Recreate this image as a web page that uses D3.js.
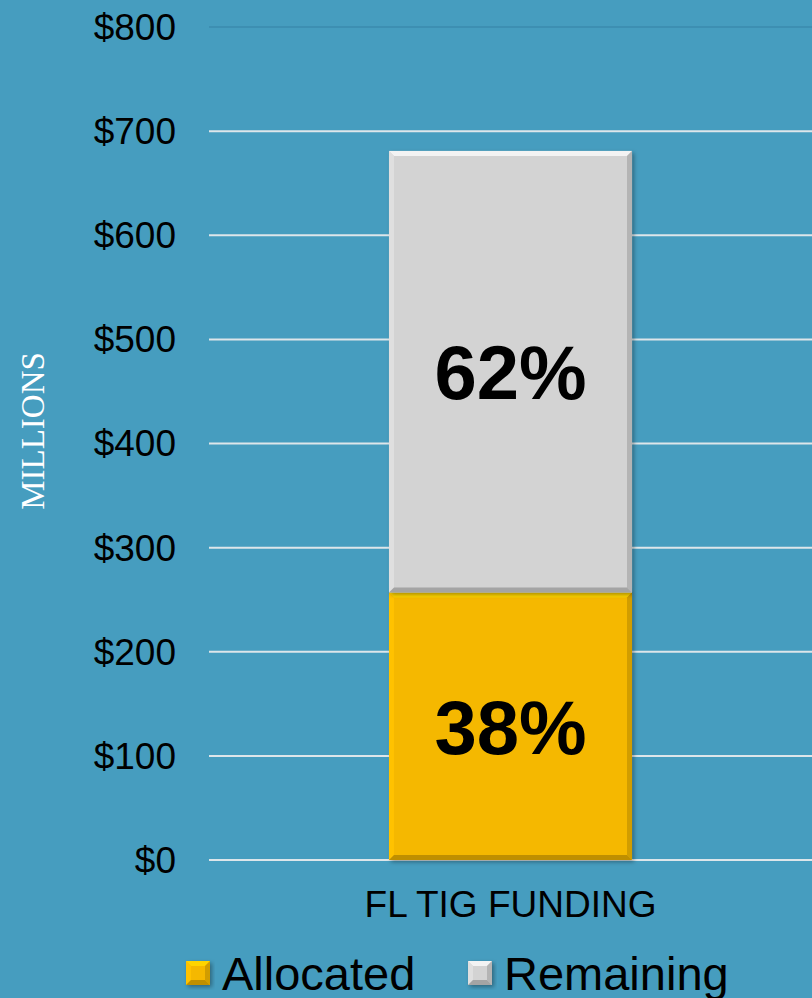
<!DOCTYPE html>
<html>
<head>
<meta charset="utf-8">
<script src="https://cdn.jsdelivr.net/npm/d3@7"></script>
<style>
  body { margin: 0; background: #469dbf; }
  svg { display: block; }
</style>
</head>
<body>
<svg></svg>
<script>
let categories = ['FL TIG FUNDING']
let seriesNames = ['Allocated', 'Remaining']
let allocated = [257]
let remaining = [424]
let percentLabels = [['38%'], ['62%']]
let tickValues = [0, 100, 200, 300, 400, 500, 600, 700, 800]

let svgWidth = 812
let svgHeight = 998
let colors = ['#f5b800', '#d3d3d3']

let svg = d3.select('svg')
    .attr('width', svgWidth)
    .attr('height', svgHeight)
    .style('background', '#469dbf')

let defs = svg.append('defs')
let shadow = defs.append('filter')
    .attr('id', 'shadow')
    .attr('x', '-10%').attr('y', '-10%')
    .attr('width', '130%').attr('height', '130%')
shadow.append('feDropShadow')
    .attr('dx', 2).attr('dy', 2)
    .attr('stdDeviation', 2)
    .attr('flood-color', '#000')
    .attr('flood-opacity', 0.35)

let yScale = d3.scaleLinear()
    .domain([0, 800])
    .range([860, 27])

let xScale = d3.scaleBand()
    .domain(categories)
    .range([209, 812])
    .padding(0.4255)

// gridlines
svg.selectAll('.grid')
    .data(tickValues)
    .enter()
    .append('line')
    .attr('x1', 209)
    .attr('x2', 812)
    .attr('y1', d => yScale(d))
    .attr('y2', d => yScale(d))
    .attr('stroke', d => d == 800 ? '#3d8fb2' : '#dde6ea')
    .attr('stroke-width', 2)

// tick labels
svg.selectAll('.tick')
    .data(tickValues)
    .enter()
    .append('text')
    .attr('x', 176)
    .attr('y', d => yScale(d))
    .attr('dy', '0.35em')
    .attr('text-anchor', 'end')
    .style('font-family', 'Liberation Sans, Arial, sans-serif')
    .style('font-size', '37px')
    .attr('fill', '#000')
    .text(d => '$' + d)

// axis title
svg.append('text')
    .attr('transform', 'translate(44,431) rotate(-90)')
    .attr('text-anchor', 'middle')
    .style('font-family', 'Liberation Serif, Times New Roman, serif')
    .style('font-size', '33px')
    .attr('fill', '#fff')
    .text('MILLIONS')

// stacked data
let table = categories.map((c, i) => ({ category: c, Allocated: allocated[i], Remaining: remaining[i] }))
let stacked = d3.stack().keys(seriesNames)(table)

function bevelBar(g, x, y, w, h, color) {
    let b = 5
    let c = d3.color(color)
    g.append('rect')
        .attr('x', x).attr('y', y)
        .attr('width', w).attr('height', h)
        .attr('fill', color)
    // top
    g.append('polygon')
        .attr('points', [[x, y], [x + w, y], [x + w - b, y + b], [x + b, y + b]].join(' '))
        .attr('fill', c.brighter(0.4))
    // left
    g.append('polygon')
        .attr('points', [[x, y], [x + b, y + b], [x + b, y + h - b], [x, y + h]].join(' '))
        .attr('fill', c.brighter(0.15))
    // right
    g.append('polygon')
        .attr('points', [[x + w, y], [x + w, y + h], [x + w - b, y + h - b], [x + w - b, y + b]].join(' '))
        .attr('fill', c.darker(0.45))
    // bottom
    g.append('polygon')
        .attr('points', [[x, y + h], [x + w, y + h], [x + w - b, y + h - b], [x + b, y + h - b]].join(' '))
        .attr('fill', c.darker(0.7))
}

stacked.forEach((layer, li) => {
    layer.forEach((d, i) => {
        let g = svg.append('g').attr('filter', 'url(#shadow)')
        let x = xScale(d.data.category)
        let y0 = yScale(d[1])
        let y1 = yScale(d[0])
        bevelBar(g, x, y0, xScale.bandwidth(), y1 - y0, colors[li])
    })
})

// percent labels
stacked.forEach((layer, li) => {
    layer.forEach((d, i) => {
        svg.append('text')
            .attr('x', xScale(d.data.category) + xScale.bandwidth() / 2)
            .attr('y', (yScale(d[0]) + yScale(d[1])) / 2)
            .attr('dy', '0.36em')
            .attr('text-anchor', 'middle')
            .style('font-family', 'Liberation Sans, Arial, sans-serif')
            .style('font-size', '76px')
            .style('font-weight', 'bold')
            .attr('fill', '#000')
            .text(percentLabels[li][i])
    })
})

// category label
svg.selectAll('.cat')
    .data(categories)
    .enter()
    .append('text')
    .attr('x', d => xScale(d) + xScale.bandwidth() / 2)
    .attr('y', 917)
    .attr('text-anchor', 'middle')
    .style('font-family', 'Liberation Sans, Arial, sans-serif')
    .style('font-size', '37px')
    .attr('fill', '#000')
    .text(d => d)

// legend
let legendX = [186, 468]
let legend = svg.selectAll('.legend')
    .data(seriesNames)
    .enter()
    .append('g')
    .attr('transform', (d, i) => 'translate(' + legendX[i] + ',961)')

legend.each(function (d, i) {
    let g = d3.select(this).append('g').attr('filter', 'url(#shadow)')
    bevelBar(g, 0, 0, 24, 24, colors[i])
})

legend.append('text')
    .attr('x', 36)
    .attr('y', 29)
    .style('font-family', 'Liberation Sans, Arial, sans-serif')
    .style('font-size', '47px')
    .attr('fill', '#000')
    .text(d => d)
</script>
</body>
</html>
